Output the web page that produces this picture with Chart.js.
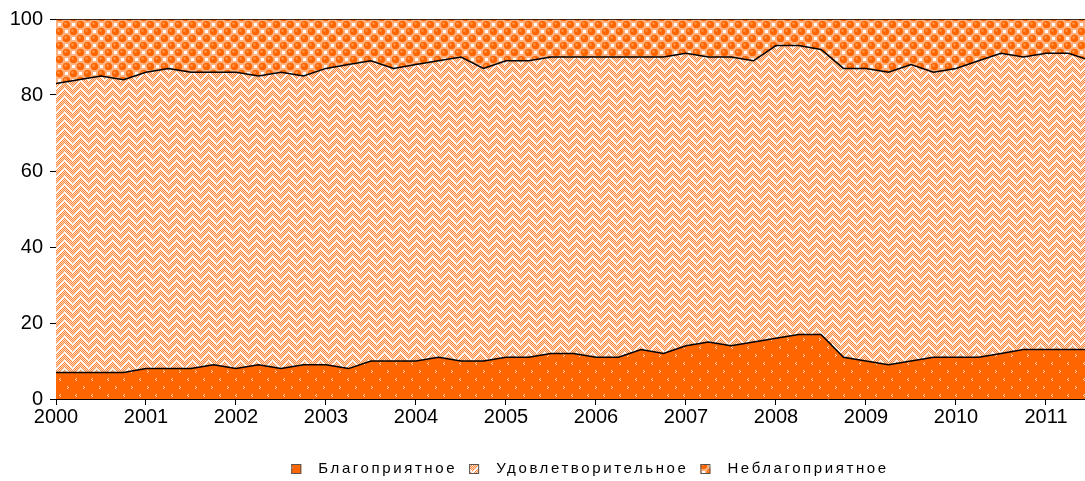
<!DOCTYPE html>
<html>
<head>
<meta charset="utf-8">
<script src="https://cdn.jsdelivr.net/npm/chart.js@4.4.1/dist/chart.umd.min.js"></script>
<style>
  html, body { margin: 0; padding: 0; background: #fff; }
  #wrap { width: 1085px; height: 481px; }
</style>
</head>
<body>
<div id="wrap"><canvas id="chart" width="1085" height="481"></canvas></div>
<script>
// Квартальные данные, 2000 I кв. - 2011 III кв. (доли, %)
const startYear = 2000;
const blago = [7, 7, 7, 7, 8, 8, 8, 9, 8, 9, 8, 9, 9, 8, 10, 10, 10, 11, 10, 10, 11, 11, 12, 12,
               11, 11, 13, 12, 14, 15, 14, 15, 16, 17, 17, 11, 10, 9, 10, 11, 11, 11, 12, 13, 13, 13, 13];
const udovl = [76, 77, 78, 77, 78, 79, 78, 77, 78, 76, 78, 76, 78, 80, 79, 77, 78, 78, 80, 77, 78, 78, 78, 78,
               79, 79, 77, 78, 77, 75, 76, 74, 77, 76, 75, 76, 77, 77, 78, 75, 76, 78, 79, 77, 78, 78, 76];
const neblago = [17, 16, 15, 16, 14, 13, 14, 14, 14, 15, 14, 15, 13, 12, 11, 13, 12, 11, 10, 13, 11, 11, 10, 10,
                 10, 10, 10, 10, 9, 10, 10, 11, 7, 7, 8, 13, 13, 14, 12, 14, 13, 11, 9, 10, 9, 9, 11];
const seriesNames = ['Благоприятное', 'Удовлетворительное', 'Неблагоприятное'];
const xYears = [2000, 2001, 2002, 2003, 2004, 2005, 2006, 2007, 2008, 2009, 2010, 2011];
const yTicks = [0, 20, 40, 60, 80, 100];

const toPoints = arr => arr.map((v, i) => ({ x: startYear + i / 4, y: v }));

// --- штриховки ---
const makeTile = (w, h, paint) => {
    const c = document.createElement('canvas');
    c.width = w; c.height = h;
    const g = c.getContext('2d');
    paint(g, w, h);
    return c;
};

const px = (g, x, y, color) => { g.fillStyle = color; g.fillRect(x, y, 1, 1); };

// оранжевый с мелкими светлыми уголками
const tileBlago = makeTile(16, 16, (g, w, h) => {
    g.fillStyle = '#FF6600';
    g.fillRect(0, 0, w, h);
    const m = '#FFD2B0';
    // ">"
    px(g, 3, 2, m); px(g, 4, 3, m); px(g, 3, 4, m);
    // "<"
    px(g, 12, 10, m); px(g, 11, 11, m); px(g, 12, 12, m);
});

// светлая "ёлочка"
const tileUdovl = makeTile(16, 16, (g, w, h) => {
    for (let y = 0; y < h; y++) {
        for (let x = 0; x < w; x++) {
            let white;
            if (x < 8) white = ((x - y + 32) % 8) < 2;
            else white = ((x + y) % 8) < 2;
            let col;
            if (white) col = '#FFFFFF';
            else col = ((x + y) % 2 === 0) ? '#FF8C42' : '#FFD9BF';
            px(g, x, y, col);
        }
    }
});

// оранжевые шарики в шахматном порядке
const tileNeblago = makeTile(14, 14, (g, w, h) => {
    g.fillStyle = '#FFB27F';
    g.fillRect(0, 0, w, h);
    const ball = (cx, cy) => {
        g.beginPath(); g.arc(cx, cy, 3.7, 0, Math.PI * 2);
        g.fillStyle = '#FF6600'; g.fill();
        g.beginPath(); g.arc(cx - 1, cy - 1, 1.2, 0, Math.PI * 2);
        g.fillStyle = '#FF9A55'; g.fill();
    };
    ball(3.5, 3.5); ball(10.5, 10.5);
    g.fillStyle = '#FFFFFF';
    g.fillRect(9, 2, 3, 3);
    g.fillRect(2, 9, 3, 3);
});

const ctx = document.getElementById('chart').getContext('2d');
const patBlago = ctx.createPattern(tileBlago, 'repeat');
const patUdovl = ctx.createPattern(tileUdovl, 'repeat');
const patNeblago = ctx.createPattern(tileNeblago, 'repeat');
const patterns = [patBlago, patUdovl, patNeblago];

// легенда с разрядкой
const spacedLegend = {
    id: 'spacedLegend',
    afterDraw(chart) {
        const c = chart.ctx;
        c.save();
        c.font = '15px "Liberation Sans", Arial, sans-serif';
        c.letterSpacing = '2.6px';
        c.textBaseline = 'middle';
        const box = 10, gapText = 17, gapItem = 12, y = 469;
        const widths = seriesNames.map(t => c.measureText(t).width);
        let total = widths.reduce((a, b) => a + b, 0) + seriesNames.length * (box + gapText) + gapItem * (seriesNames.length - 1);
        let x = 590 - total / 2;
        seriesNames.forEach((t, i) => {
            c.fillStyle = patterns[i];
            c.fillRect(x, y - box / 2, box, box);
            c.strokeStyle = '#555';
            c.lineWidth = 1;
            c.strokeRect(x + 0.5, y - box / 2 + 0.5, box - 1, box - 1);
            c.fillStyle = '#000';
            c.fillText(t, x + box + gapText, y);
            x += box + gapText + widths[i] + gapItem;
        });
        c.restore();
    }
};

const tickFont = { family: '"Liberation Sans", Arial, sans-serif', size: 20 };

new Chart(ctx, {
    type: 'line',
    data: {
        datasets: [
            {
                label: seriesNames[0],
                data: toPoints(blago),
                fill: 'origin',
                backgroundColor: patBlago,
                borderColor: '#000',
                borderWidth: 1.5
            },
            {
                label: seriesNames[1],
                data: toPoints(udovl),
                fill: '-1',
                backgroundColor: patUdovl,
                borderColor: '#000',
                borderWidth: 1.5
            },
            {
                label: seriesNames[2],
                data: toPoints(neblago),
                fill: '-1',
                backgroundColor: patNeblago,
                borderColor: '#000',
                borderWidth: 1.5
            }
        ]
    },
    options: {
        responsive: false,
        animation: false,
        elements: {
            point: { radius: 0 },
            line: { tension: 0 }
        },
        layout: {
            padding: { top: 18, right: 0, bottom: 52, left: 0 }
        },
        plugins: {
            legend: { display: false },
            tooltip: { enabled: false }
        },
        scales: {
            x: {
                type: 'linear',
                min: 2000,
                max: 2000 + 1029 / 90,
                afterBuildTicks: s => { s.ticks = xYears.map(v => ({ value: v })); },
                afterFit: s => { s.height = 30; },
                border: { display: true, color: '#000', width: 1 },
                grid: {
                    display: true,
                    drawOnChartArea: false,
                    drawTicks: true,
                    tickLength: 6,
                    color: '#000'
                },
                ticks: {
                    color: '#000',
                    font: tickFont,
                    padding: 0,
                    maxRotation: 0,
                    autoSkip: false,
                    callback: v => String(v)
                }
            },
            y: {
                stacked: true,
                min: 0,
                max: 100,
                afterBuildTicks: s => { s.ticks = yTicks.map(v => ({ value: v })); },
                afterFit: s => { s.width = 56; },
                border: { display: true, color: '#000', width: 1 },
                grid: {
                    display: true,
                    drawOnChartArea: false,
                    drawTicks: true,
                    tickLength: 6,
                    color: '#000'
                },
                ticks: {
                    color: '#000',
                    font: tickFont,
                    padding: 7
                }
            }
        }
    },
    plugins: [spacedLegend]
});
</script>
</body>
</html>
